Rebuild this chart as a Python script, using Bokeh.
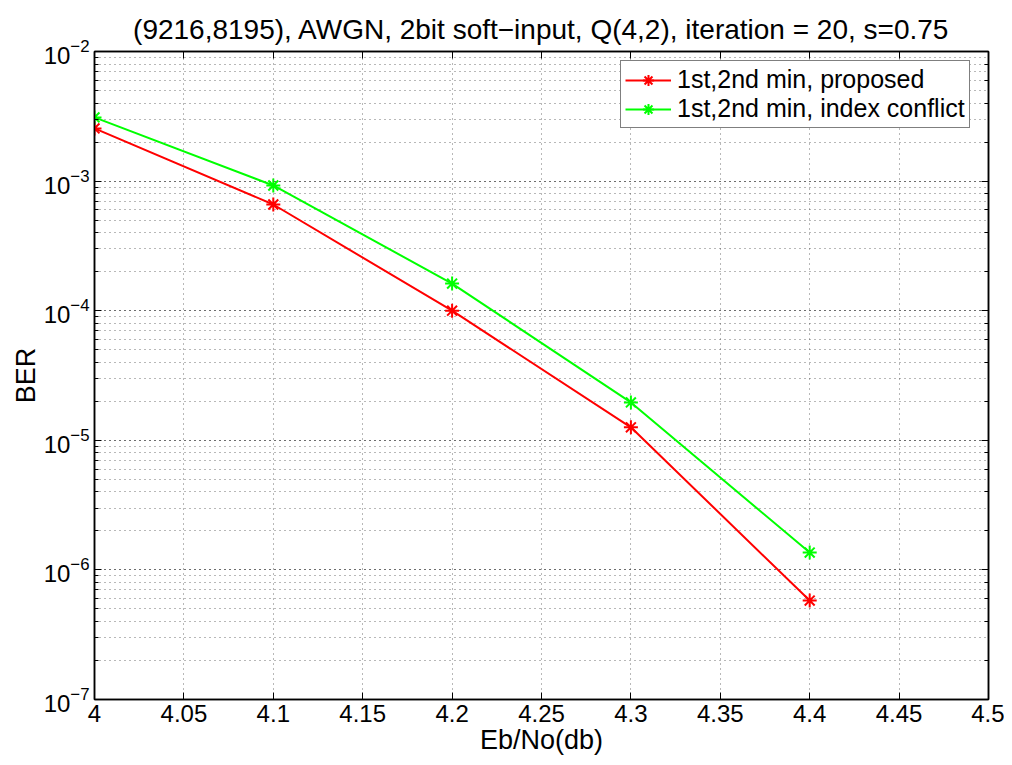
from bokeh.plotting import figure
from bokeh.models import (LogAxis, LinearAxis, CustomJSTickFormatter, FixedTicker,
                          Range1d, LogTicker)
from bokeh.embed import file_html
from bokeh.resources import INLINE

ebno = [4.0, 4.1, 4.2, 4.3, 4.4]
ber_proposed = [2.55e-3, 6.6e-4, 1.0e-4, 1.26e-5, 5.8e-7]
ber_conflict = [3.1e-3, 9.25e-4, 1.62e-4, 1.96e-5, 1.36e-6]
x_ticks = [4.0, 4.05, 4.1, 4.15, 4.2, 4.25, 4.3, 4.35, 4.4, 4.45, 4.5]
title_text = "(9216,8195), AWGN, 2bit soft\u2212input, Q(4,2), iteration = 20, s=0.75"
labels = ["1st,2nd min, proposed", "1st,2nd min, index conflict"]
colors = ["#ff0000", "#00ff00"]

FONT = "Liberation Sans"
TICK_FS = "24px"
LABEL_FS = "27px"

p = figure(width=1004, height=761, output_backend="svg", toolbar_location=None,
           y_axis_type="log", x_range=Range1d(4.0, 4.5), y_range=Range1d(1e-7, 1e-2),
           min_border_left=94, min_border_right=16, min_border_top=51, min_border_bottom=62)

p.title.text = title_text
p.title.align = "center"
p.title.text_font = FONT
p.title.text_font_size = "28px"
p.title.text_font_style = "normal"
p.title.text_color = "black"
p.title.standoff = 14
p.title.offset = 0

x_fmt = CustomJSTickFormatter(code="return parseFloat(tick.toFixed(2)).toString();")
empty_fmt = CustomJSTickFormatter(code="return '';")

for ax in p.xaxis:
    ax.ticker = FixedTicker(ticks=x_ticks)
    ax.formatter = x_fmt
    ax.axis_label = "Eb/No(db)"
for ax in p.yaxis:
    ax.axis_label = "BER"

for ax in list(p.xaxis) + list(p.yaxis):
    ax.axis_label_text_font = FONT
    ax.axis_label_text_font_size = LABEL_FS
    ax.axis_label_text_font_style = "normal"
    ax.axis_label_text_color = "black"
    ax.major_label_text_font = FONT
    ax.major_label_text_font_size = TICK_FS
    ax.major_label_text_color = "black"
    ax.major_tick_in = 7
    ax.major_tick_out = 0
    ax.minor_tick_in = 4
    ax.minor_tick_out = 0
    ax.axis_line_width = 1.5
    ax.axis_label_standoff = 0
    ax.major_label_standoff = 5
p.xaxis.minor_tick_line_color = None

# box axes (top and right), no labels
top = LinearAxis(ticker=FixedTicker(ticks=x_ticks), formatter=empty_fmt,
                 major_label_text_font_size="1px",
                 major_tick_in=7, major_tick_out=0, minor_tick_line_color=None,
                 axis_line_width=1.5, major_label_standoff=0)
right = LogAxis(ticker=LogTicker(), formatter=empty_fmt,
                major_label_text_font_size="1px",
                major_tick_in=7, major_tick_out=0, minor_tick_in=4, minor_tick_out=0,
                axis_line_width=1.5, major_label_standoff=0)
p.add_layout(top, "above")
p.add_layout(right, "right")

p.outline_line_color = "black"
p.outline_line_width = 1.5

for g in (p.xgrid, p.ygrid):
    g.grid_line_color = "#333333"
    g.grid_line_alpha = 0.7
    g.grid_line_dash = "1 4"
    g.grid_line_width = 1
p.ygrid.minor_grid_line_color = "#333333"
p.ygrid.minor_grid_line_alpha = 0.7
p.ygrid.minor_grid_line_dash = "1 4"

for ys, c, lab in [(ber_proposed, colors[0], labels[0]), (ber_conflict, colors[1], labels[1])]:
    p.line(ebno, ys, line_color=c, line_width=2, legend_label=lab)
    p.scatter(ebno, ys, marker="asterisk", size=14, line_color=c, line_width=2, legend_label=lab)

lg = p.legend[0]
lg.location = (526, 571)
lg.margin = 0
lg.border_line_color = "black"
lg.border_line_width = 1
lg.label_text_font = FONT
lg.label_text_font_size = "25px"
lg.label_text_color = "black"
lg.glyph_width = 46
lg.glyph_height = 28
lg.label_standoff = 6
lg.padding = 4
lg.spacing = 0
lg.background_fill_alpha = 1

open("out.html", "w").write(file_html(p, INLINE))
